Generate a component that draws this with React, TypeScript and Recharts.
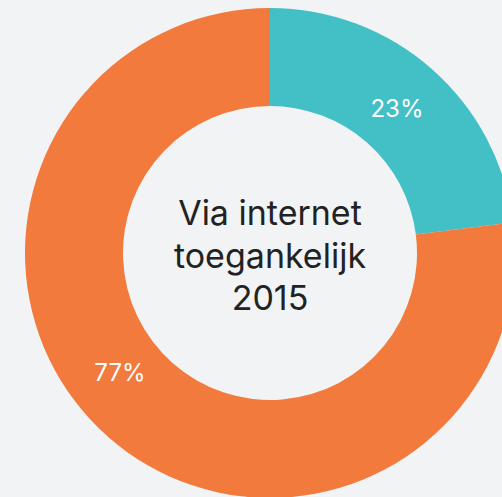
import React from 'react';
import { PieChart, Pie, Cell } from 'recharts';

const categories = ['Via internet toegankelijk', 'Niet via internet toegankelijk'];
const values = [23, 77];
const colors = ['#42c0c6', '#f27a3c'];
const centerLines = ['Via internet', 'toegankelijk', '2015'];

const data = categories.map((name, i) => ({ name, value: values[i] }));

const CX = 270;
const CY = 253;
const RADIAN = Math.PI / 180;
// the reference nudges the big slice's label a bit towards the left
const labelAngleShift = [0, -10];

const renderLabel = (props: any) => {
  const { cx, cy, midAngle, innerRadius, outerRadius, percent, index } = props;
  const r = (innerRadius + outerRadius) / 2 - 4;
  const a = midAngle + (labelAngleShift[index] || 0);
  const x = cx + r * Math.cos(-a * RADIAN);
  const y = cy + r * Math.sin(-a * RADIAN);
  return (
    <text x={x} y={y} fill="#ffffff" textAnchor="middle" dominantBaseline="central" fontSize={24} fontFamily="Inter">
      {`${Math.round(percent * 100)}%`}
    </text>
  );
};

export default function App() {
  return (
    <div style={{ position: 'fixed', left: 0, top: 0, width: 502, height: 497, background: '#f2f3f5' }}>
      <PieChart width={502} height={497} margin={{ top: 0, right: 0, bottom: 0, left: 0 }}>
        <Pie
          data={data}
          dataKey="value"
          cx={CX}
          cy={CY}
          innerRadius={147}
          outerRadius={245}
          startAngle={90}
          endAngle={-270}
          stroke="none"
          label={renderLabel}
          labelLine={false}
          isAnimationActive={false}
        >
          {data.map((d, i) => (
            <Cell key={d.name} fill={colors[i]} />
          ))}
        </Pie>
        <text textAnchor="middle" fontFamily="Inter" fontSize={34} fill="#222222">
          {centerLines.map((line, i) => (
            <tspan key={line} x={CX} y={CY - 28 + i * 42.5}>{line}</tspan>
          ))}
        </text>
      </PieChart>
    </div>
  );
}
